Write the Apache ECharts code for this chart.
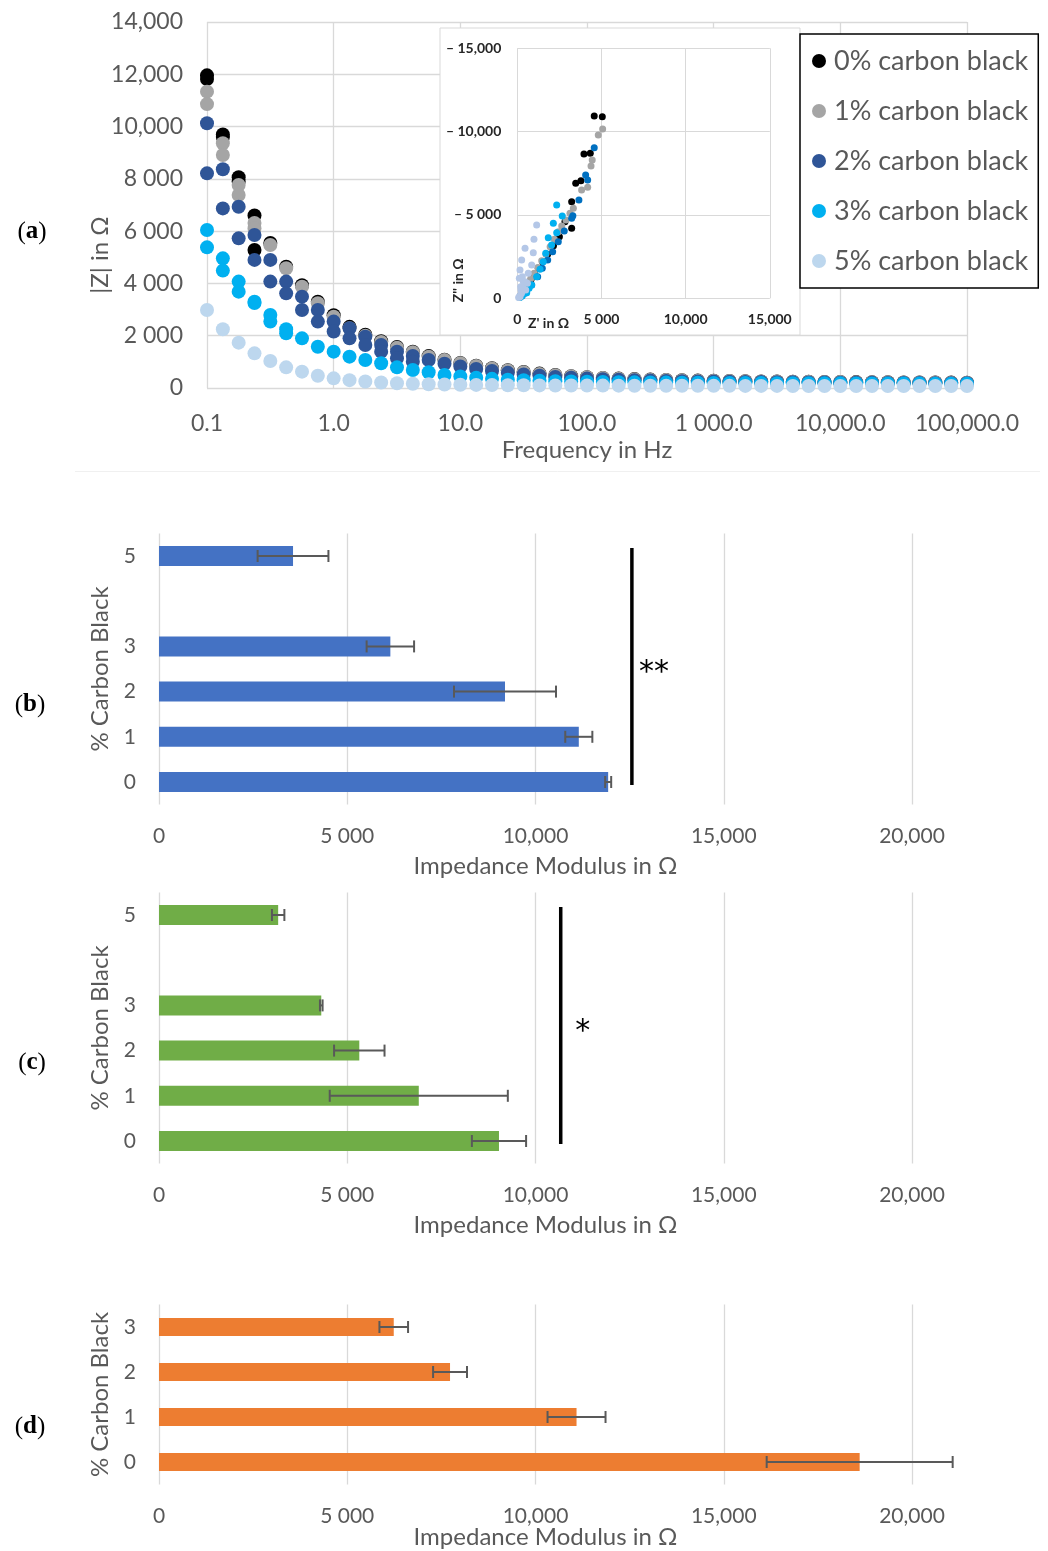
<!DOCTYPE html>
<html><head><meta charset="utf-8">
<script src="https://cdn.jsdelivr.net/npm/echarts@6/dist/echarts.min.js"></script>
<style>html,body{margin:0;padding:0;background:#fff;}#chart{width:1048px;height:1551px;}</style>
</head><body><div id="chart"></div>
<script>
// ---------- Panel (a): |Z| vs frequency ----------
const freqHz = [0.1,0.1334,0.1778,0.2371,0.3162,0.4217,0.5623,0.7499,
  1,1.334,1.778,2.371,3.162,4.217,5.623,7.499,
  10,13.34,17.78,23.71,31.62,42.17,56.23,74.99,
  100,133.4,177.8,237.1,316.2,421.7,562.3,749.9,
  1000,1334,1778,2371,3162,4217,5623,7499,
  10000,13340,17780,23710,31620,42170,56230,74990,100000];
const freqTickLabels = ['0.1','1.0','10.0','100.0','1 000.0','10,000.0','100,000.0'];
const zTickLabels = ['0','2 000','4 000','6 000','8 000','10,000','12,000','14,000'];
const seriesNames = ['0% carbon black','1% carbon black','2% carbon black','3% carbon black','5% carbon black'];
const mainColors = ['#000000','#a5a5a5','#2f5597','#00b0f0','#bdd7ee'];
const insetColors = ['#000000','#a5a5a5','#0070c0','#00b0f0','#b4c7e7'];

const zCB0 = [11960,9700,8060,6600,5550,4640,3930,3300,2780,2340,2040,1790,1570,1390,1220,1085,960,850,760,680,610,550,495,450,415,385,360,340,322,308,295,284,275,267,260,253,247,242,237,233,229,225,221,218,215,212,209,206,203];
const zCB0b = [11820,9600,7900,5280];
const zCB1 = [11335,9360,7765,6310,5470,4580,3875,3240,2730,2290,2000,1760,1540,1370,1200,1070,950,840,750,670,600,540,490,445,410,380,355,335,318,305,292,282,273,265,258,252,246,241,236,232,228,224,220,217,214,211,208,205,202];
const zCB1b = [10860,8910,7380,6100];
const zCB2 = [10125,8365,6935,5850,4900,4070,3495,2985,2540,2285,1965,1645,1390,1225,1070,930,820,730,650,580,520,470,425,390,360,335,315,298,284,272,262,253,245,238,232,226,221,216,212,208,204,200,197,194,191,188,185,182,180];
const zCB2b = [8210,6870,5725,4900,4070,3620,2985,2540,2160,1900,1645,1390,1135,1005];
const zCB3 = [6045,4960,4070,3300,2790,2245,1900,1580,1390,1200,1070,945,790,690,600,500,440,390,350,320,295,275,260,248,238,230,223,217,212,207,203,199,196,193,190,187,185,183,181,179,177,175,173,171,170,168,167,165,164];
const zCB3b = [5380,4490,3685,3250,2540,2090];
const zCB5 = [2985,2245,1735,1325,1030,790,625,470,370,300,250,210,180,160,145,135,125,118,112,107,103,100,97,95,93,91,89,88,87,86,85,84,83,82,81,80,80,79,79,78,78,77,77,76,76,75,75,74,74];

// inset (Nyquist): Z' and -Z''
const nyqRe0 = [5050,4570,4335,3960,3780,3470,3230,2830,3230,2500,2150,1800,1500,1250,1020,820,650,500,380,280,200,150];
const nyqIm0 = [10900,10940,8700,8660,7060,6900,5800,4600,4200,3700,3150,2650,2200,1800,1450,1150,880,650,460,300,170,80];
const nyqRe1 = [5070,4810,4450,4380,4180,3820,3330,3130,2890,2640,2440,2200,1950,1700,1450,1220,1000,800,620,460,330,220,150];
const nyqIm1 = [10160,9800,8300,7940,6660,6500,5400,5100,4700,4340,4000,3550,3100,2650,2250,1850,1500,1180,880,620,400,220,90];
const nyqRe2 = [4570,4060,4180,3660,3300,3230,2790,2435,2100,1805,1485,1210,855,457,250];
const nyqIm2 = [9040,7400,7100,5900,4950,4800,4040,3400,2800,2300,1800,1300,800,300,120];
const nyqRe3 = [2340,2670,2140,2340,1840,2040,1690,1540,1350,1150,855,700,560,500,300,150];
const nyqIm3 = [5600,4940,4500,3940,3640,3200,2700,2200,1740,1300,800,600,340,350,150,50];
const nyqRe4 = [1150,990,460,950,260,855,160,650,360,220,160,300,450,600,350,500,250,150,80,120,200];
const nyqIm4 = [4400,3540,3000,2740,2300,2000,1700,1500,1000,500,100,1300,1000,900,600,500,300,150,50,1200,700];
const nyqTicksX = ['0','5 000','10,000','15,000'];
const nyqTicksY = ['0','\u2013 5 000','\u2013 10,000','\u2013 15,000'];

// ---------- Panels (b), (c), (d) ----------
const modTicks = ['0','5 000','10,000','15,000','20,000'];
const catBC = ['0','1','2','3','','5'];
const valB = [11930,11150,9190,6145,null,3560];
const errB = [80,360,1355,630,null,940];
const valC = [9030,6900,5320,4310,null,3165];
const errC = [720,2365,670,35,null,165];
const catD = ['0','1','2','3'];
const valD = [18610,11090,7730,6235];
const errD = [2470,770,450,380];
const sigB = {x: 12560, label: '**'};
const sigC = {x: 10670, label: '*'};

const FONT = 'Lato';
const TXT = '#595959';
const GRIDC = '#d9d9d9';

const chart = echarts.init(document.getElementById('chart'));

const mainSeries = [zCB0, zCB1, zCB2, zCB3, zCB5];
const mainExtra = [zCB0b, zCB1b, zCB2b, zCB3b, []];
const nyqRe = [nyqRe0, nyqRe1, nyqRe2, nyqRe3, nyqRe4];
const nyqIm = [nyqIm0, nyqIm1, nyqIm2, nyqIm3, nyqIm4];

const series = [];
seriesNames.forEach((name, s) => {
  const data = freqHz.map((f, i) => [f, mainSeries[s][i]])
    .concat(mainExtra[s].map((v, i) => [freqHz[i], v]));
  series.push({type: 'scatter', name, xAxisIndex: 0, yAxisIndex: 0, data,
    symbolSize: 14, itemStyle: {color: mainColors[s], opacity: 1}, z: 2 + s * 0.01, silent: true});
});
seriesNames.forEach((name, s) => {
  series.push({type: 'scatter', name, xAxisIndex: 1, yAxisIndex: 1,
    data: nyqRe[s].map((r, i) => [r, nyqIm[s][i]]),
    symbolSize: 7, itemStyle: {color: insetColors[s], opacity: 1}, z: 6 + s * 0.01, silent: true});
});

function errRender(params, api) {
  const v = api.value(0), c = api.value(1), e = api.value(2);
  const lo = api.coord([v - e, c]), hi = api.coord([v + e, c]);
  const st = {stroke: '#595959', lineWidth: 2};
  return {type: 'group', children: [
    {type: 'line', shape: {x1: lo[0], y1: lo[1], x2: hi[0], y2: hi[1]}, style: st},
    {type: 'line', shape: {x1: lo[0], y1: lo[1] - 6, x2: lo[0], y2: lo[1] + 6}, style: st},
    {type: 'line', shape: {x1: hi[0], y1: hi[1] - 6, x2: hi[0], y2: hi[1] + 6}, style: st}
  ]};
}
function sigRender(params, api) {
  const x = api.value(0), top = api.coord([x, api.value(1)]), bot = api.coord([x, api.value(2)]);
  return {type: 'group', children: [
    {type: 'line', shape: {x1: top[0], y1: top[1] - 8, x2: bot[0], y2: bot[1] + 3},
      style: {stroke: '#000', lineWidth: 3.5}},
    {type: 'text', x: top[0] + 22, y: (top[1] + bot[1]) / 2 + 4,
      style: {text: api.value(3) === 2 ? '**' : '*', fill: '#000', font: '30px "DejaVu Sans"', align: 'center', verticalAlign: 'middle'}}
  ]};
}
function barPanel(idx, vals, errs, color, bw, sig) {
  series.push({type: 'bar', xAxisIndex: idx, yAxisIndex: idx, data: vals, barWidth: bw,
    itemStyle: {color}, silent: true, z: 2});
  series.push({type: 'custom', xAxisIndex: idx, yAxisIndex: idx, renderItem: errRender, clip: false, z: 3, silent: true,
    data: vals.map((v, i) => v == null ? null : [v, i, errs[i]]).filter(d => d)});
  if (sig) {
    series.push({type: 'custom', xAxisIndex: idx, yAxisIndex: idx, renderItem: sigRender, clip: false, z: 3, silent: true,
      data: [[sig.x, vals.length - 1, 0, sig.label.length]]});
  }
}
barPanel(2, valB, errB, '#4472c4', 20, sigB);
barPanel(3, valC, errC, '#70ad47', 20, sigC);
barPanel(4, valD, errD, '#ed7d31', 18, null);

const lbl = (sz, extra) => Object.assign({fontFamily: FONT, fontSize: sz, color: TXT}, extra || {});

function modX(idx) {
  return {type: 'value', gridIndex: idx, min: 0, max: 20000, interval: 5000,
    axisLine: {show: false}, axisTick: {show: false},
    splitLine: {lineStyle: {color: GRIDC, width: 1.3}},
    axisLabel: lbl(21, {margin: 21, formatter: v => modTicks[Math.round(v / 5000)]}),
    name: 'Impedance Modulus in \u03a9', nameLocation: 'middle', nameGap: idx === 4 ? 41 : 50, nameMoveOverlap: false,
    nameTextStyle: lbl(24, {padding: [0, 0, 0, 20]})};
}
function catY(idx, cats) {
  return {type: 'category', gridIndex: idx, data: cats,
    axisLine: {show: false}, axisTick: {show: false}, splitLine: {show: false},
    axisLabel: lbl(21, {margin: 23}),
    name: '% Carbon Black', nameLocation: 'middle', nameGap: 47, nameMoveOverlap: false, nameTextStyle: lbl(24)};
}

const panelLabel = (t, x, y) => ({type: 'text', x, y, style: {
  text: '(' + '{b|' + t + '}' + ')', font: '25px "Liberation Serif"', fill: '#000', align: 'center', verticalAlign: 'middle',
  rich: {b: {fontFamily: 'Liberation Serif', fontSize: 25, fontWeight: 'bold', fill: '#000'}}}, z: 10});

const option = {
  backgroundColor: '#fff',
  animation: false,
  textStyle: {fontFamily: FONT},
  grid: [
    {left: 207, top: 22, width: 760, height: 366},
    {left: 517.3, top: 48.3, width: 252.5, height: 250, z: 3},
    {left: 159, top: 533.4, width: 753, height: 271.2},
    {left: 159, top: 892.4, width: 753, height: 271.2},
    {left: 159, top: 1304.5, width: 753, height: 180}
  ],
  xAxis: [
    {type: 'log', gridIndex: 0, logBase: 10, min: 0.1, max: 100000,
      axisLine: {show: false}, axisTick: {show: false}, minorTick: {show: false},
      splitLine: {lineStyle: {color: GRIDC, width: 1.3}},
      axisLabel: lbl(23, {margin: 24, formatter: v => freqTickLabels[Math.round(Math.log10(v)) + 1]}),
      name: 'Frequency in Hz', nameLocation: 'middle', nameGap: 50, nameMoveOverlap: false, nameTextStyle: lbl(24)},
    {type: 'value', gridIndex: 1, min: 0, max: 15000, interval: 5000, z: 3,
      axisLine: {show: false}, axisTick: {show: false},
      splitLine: {lineStyle: {color: GRIDC, width: 1}},
      axisLabel: {fontFamily: FONT, fontSize: 14, fontWeight: 'bold', color: '#262626', margin: 14,
        formatter: v => nyqTicksX[Math.round(v / 5000)]},
      name: "Z' in \u03a9", nameLocation: 'middle', nameGap: 18, nameMoveOverlap: false,
      nameTextStyle: {fontFamily: FONT, fontSize: 14, fontWeight: 'bold', color: '#262626', padding: [0, 190, 0, 0]}},
    modX(2), modX(3), modX(4)
  ],
  yAxis: [
    {type: 'value', gridIndex: 0, min: 0, max: 14000, interval: 2000,
      axisLine: {show: false}, axisTick: {show: false},
      splitLine: {lineStyle: {color: GRIDC, width: 1.3}},
      axisLabel: lbl(23, {margin: 24, formatter: v => zTickLabels[Math.round(v / 2000)]}),
      name: '|Z| in \u03a9', nameLocation: 'middle', nameGap: 95, nameMoveOverlap: false,
      nameTextStyle: lbl(24, {padding: [0, 100, 0, 0]})},
    {type: 'value', gridIndex: 1, min: 0, max: 15000, interval: 5000, z: 3,
      axisLine: {show: false}, axisTick: {show: false},
      splitLine: {lineStyle: {color: GRIDC, width: 1}},
      axisLabel: {fontFamily: FONT, fontSize: 14, fontWeight: 'bold', color: '#262626', margin: 16,
        formatter: v => nyqTicksY[Math.round(v / 5000)]},
      name: "Z'' in \u03a9", nameLocation: 'middle', nameGap: 52, nameMoveOverlap: false,
      nameTextStyle: {fontFamily: FONT, fontSize: 14, fontWeight: 'bold', color: '#262626', padding: [0, 214, 0, 0]}},
    catY(2, catBC), catY(3, catBC), catY(4, catD)
  ],
  legend: {
    data: seriesNames, orient: 'vertical', left: 800, top: 34,
    backgroundColor: '#fff', borderColor: '#000', borderWidth: 1.5,
    padding: [12, 10, 12, 12], itemGap: 20, itemWidth: 14, itemHeight: 14, icon: 'circle',
    textStyle: {fontFamily: FONT, fontSize: 27, color: TXT, lineHeight: 30, padding: [0, 0, 0, 3]},
    selectedMode: false, z: 8
  },
  graphic: [
    {type: 'rect', shape: {x: 440, y: 28, width: 360, height: 307}, style: {fill: '#fff', stroke: GRIDC, lineWidth: 1}, z: 1},
    {type: 'line', shape: {x1: 75, y1: 471.5, x2: 1040, y2: 471.5}, style: {stroke: '#f0f0f0', lineWidth: 1}, z: 1},
    panelLabel('a', 32, 232), panelLabel('b', 30, 705), panelLabel('c', 32, 1063), panelLabel('d', 30, 1427)
  ],
  series
};
chart.setOption(option);
</script></body></html>
